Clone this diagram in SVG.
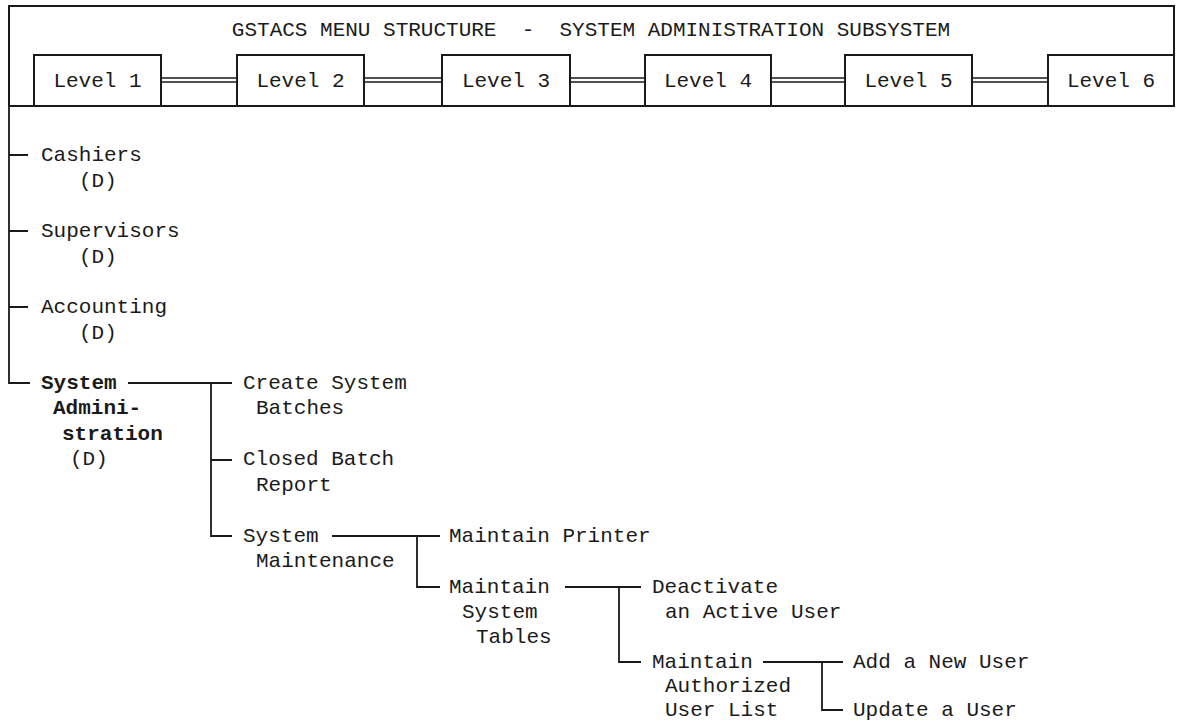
<svg xmlns="http://www.w3.org/2000/svg" width="1182" height="721" viewBox="0 0 1182 721">
<style>
  text { font-family: "Liberation Mono", "Courier New", monospace; font-size: 21px; fill: #1a1a1a; }
  .b { font-weight: bold; }
  .frame { fill: none; stroke: #1a1a1a; stroke-width: 2; }
  .box { fill: #ffffff; stroke: #1a1a1a; stroke-width: 2; }
  .dbl { stroke: #1a1a1a; stroke-width: 1.5; fill: none; }
  .ln { stroke: #1a1a1a; stroke-width: 1.8; fill: none; }
</style>
<rect width="1182" height="721" fill="#ffffff"/>

<g id="header">
  <path class="frame" d="M9,106 V6 H1174 V106 M9,106 H1174"/>
  <text x="591" y="36" text-anchor="middle" xml:space="preserve">GSTACS MENU STRUCTURE  -  SYSTEM ADMINISTRATION SUBSYSTEM</text>
</g>

<g id="level-links">
  <path class="dbl" d="M161,78 H237 M161,82 H237"/>
  <path class="dbl" d="M364,78 H442 M364,82 H442"/>
  <path class="dbl" d="M570,78 H645 M570,82 H645"/>
  <path class="dbl" d="M771,78 H845 M771,82 H845"/>
  <path class="dbl" d="M972,78 H1048 M972,82 H1048"/>
</g>

<g id="level1"><rect class="box" x="34" y="55" width="127" height="51"/><text x="97.5" y="87" text-anchor="middle">Level 1</text></g>
<g id="level2"><rect class="box" x="237" y="55" width="127" height="51"/><text x="300.5" y="87" text-anchor="middle">Level 2</text></g>
<g id="level3"><rect class="box" x="442" y="55" width="128" height="51"/><text x="506" y="87" text-anchor="middle">Level 3</text></g>
<g id="level4"><rect class="box" x="645" y="55" width="126" height="51"/><text x="708" y="87" text-anchor="middle">Level 4</text></g>
<g id="level5"><rect class="box" x="845" y="55" width="127" height="51"/><text x="908.5" y="87" text-anchor="middle">Level 5</text></g>
<g id="level6"><rect class="box" x="1048" y="55" width="126" height="51"/><text x="1111" y="87" text-anchor="middle">Level 6</text></g>

<g id="connectors">
  <!-- trunk -->
  <path class="ln" d="M9,106 V383 H30"/>
  <path class="ln" d="M9,155 H28 M9,231 H28 M9,307 H28"/>
  <!-- System Administration -->
  <path class="ln" d="M128,383 H232 M211,383 V536 H232 M211,460 H232"/>
  <!-- System Maintenance -->
  <path class="ln" d="M332,536 H440 M417,536 V587 H440"/>
  <!-- Maintain System Tables -->
  <path class="ln" d="M565,587 H641 M619,587 V662 H641"/>
  <!-- Maintain Authorized User List -->
  <path class="ln" d="M763,662 H843 M822,662 V710 H843"/>
</g>

<g id="cashiers"><text x="41" y="161">Cashiers</text><text x="79" y="187">(D)</text></g>
<g id="supervisors"><text x="41" y="237">Supervisors</text><text x="79" y="263">(D)</text></g>
<g id="accounting"><text x="41" y="313">Accounting</text><text x="79" y="339">(D)</text></g>
<g id="system-administration">
  <text class="b" x="41" y="389">System</text>
  <text class="b" x="53" y="414">Admini-</text>
  <text class="b" x="62" y="440">stration</text>
  <text x="70" y="465">(D)</text>
</g>
<g id="create-system-batches"><text x="243" y="389">Create System</text><text x="256" y="414">Batches</text></g>
<g id="closed-batch-report"><text x="243" y="465">Closed Batch</text><text x="256" y="491">Report</text></g>
<g id="system-maintenance"><text x="243" y="542">System</text><text x="256" y="567">Maintenance</text></g>
<g id="maintain-printer"><text x="449" y="542">Maintain Printer</text></g>
<g id="maintain-system-tables"><text x="449" y="593">Maintain</text><text x="462" y="618">System</text><text x="476" y="643">Tables</text></g>
<g id="deactivate-user"><text x="652" y="593">Deactivate</text><text x="665" y="618">an Active User</text></g>
<g id="maintain-authorized-user-list"><text x="652" y="668">Maintain</text><text x="665" y="692">Authorized</text><text x="665" y="716">User List</text></g>
<g id="add-new-user"><text x="853" y="668">Add a New User</text></g>
<g id="update-user"><text x="853" y="716">Update a User</text></g>
</svg>
